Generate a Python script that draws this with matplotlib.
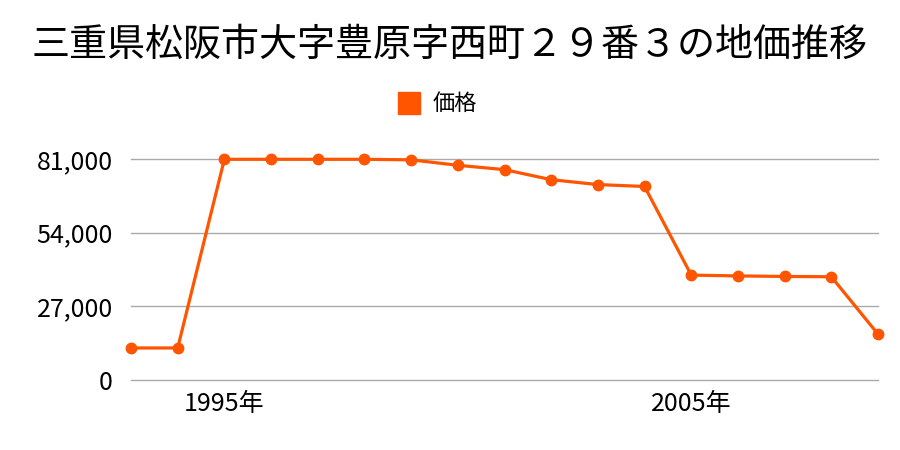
import matplotlib
matplotlib.use("Agg")
import matplotlib.pyplot as plt
from matplotlib.ticker import FuncFormatter

plt.rcParams['font.family'] = ['Noto Sans CJK JP', 'DejaVu Sans']

years = list(range(1993, 2010))
prices = [11600, 11600, 81000, 81000, 81000, 81000, 80800, 78800, 77200,
          73500, 71700, 71000, 38400, 38100, 37900, 37800, 16700]
yticks = [0, 27000, 54000, 81000]
xticks = [1995, 2005]
xticklabels = ['1995年', '2005年']
title = '三重県松阪市大字豊原字西町２９番３の地価推移'
series_name = '価格'
color = '#ff5500'

fig = plt.figure(figsize=(9, 4.5), dpi=100)
ax = fig.add_axes([131/900, 1-379.5/450, (878-131)/900, (379.5-159.3)/450])

ax.plot(years, prices, color=color, lw=2.3, marker='o', ms=7.5, clip_on=False, zorder=3)
ax.set_xlim(1993, 2009)
ax.set_ylim(0, 81000)
ax.set_yticks(yticks)
ax.yaxis.set_major_formatter(FuncFormatter(lambda v, p: f'{int(v):,}'))
ax.set_xticks(xticks)
ax.set_xticklabels(xticklabels)
ax.grid(axis='y', color='#aaaaaa', lw=1)
for gl in ax.get_ygridlines():
    gl.set_clip_on(False)
ax.set_axisbelow(True)
for s in ax.spines.values():
    s.set_visible(False)
ax.tick_params(axis='both', length=0, labelsize=18, colors='#000000')
ax.tick_params(axis='y', pad=13)
ax.tick_params(axis='x', pad=8)

fig.text(0.5, 1-45/450, title, ha='center', va='center', fontsize=27.4)
fig.patches.append(plt.Rectangle((398/900, 1-114/450), 22/900, 22/450,
                                 transform=fig.transFigure, color=color))
fig.text(433/900, 1-103/450, series_name, ha='left', va='center', fontsize=16)

fig.savefig('out.png', dpi=100)
